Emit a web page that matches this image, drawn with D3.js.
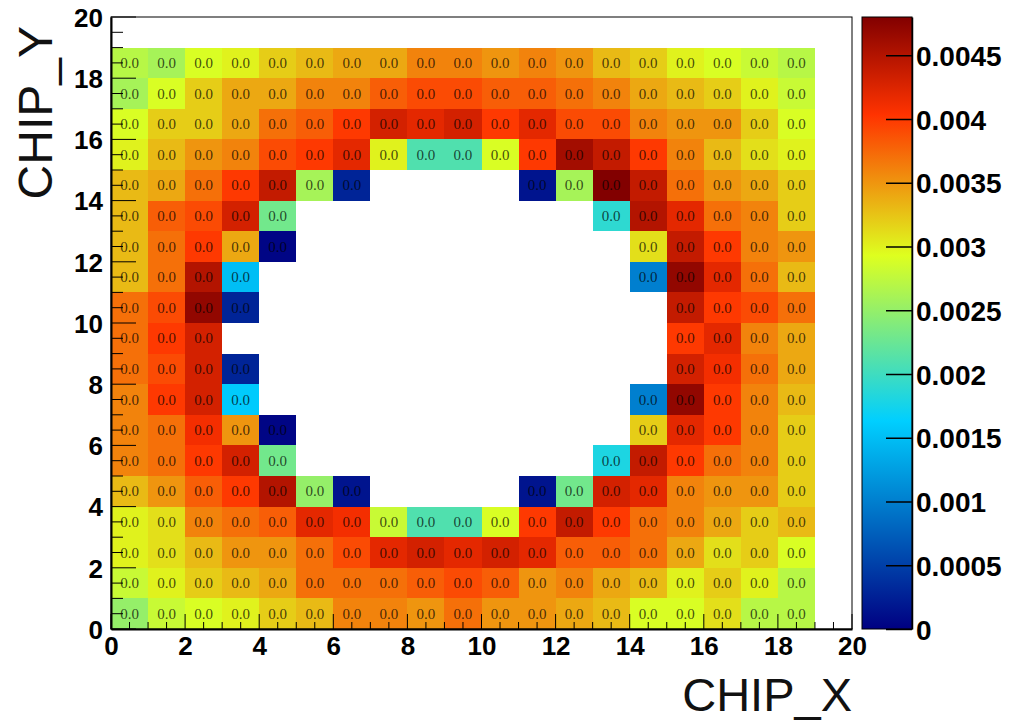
<!DOCTYPE html>
<html>
<head>
<meta charset="utf-8">
<script src="https://d3js.org/d3.v7.min.js"></script>
<style>
  body { margin: 0; background: #fff; }
  svg text { font-family: "Liberation Sans", Arial, sans-serif; }
</style>
</head>
<body>
<div id="chart"></div>
<script>
// chip occupancy map, one row per CHIP_Y (top row first), null = empty bin
const chipX = [0, 1, 2, 3, 4, 5, 6, 7, 8, 9, 10, 11, 12, 13, 14, 15, 16, 17, 18];
const chipY = [18, 17, 16, 15, 14, 13, 12, 11, 10, 9, 8, 7, 6, 5, 4, 3, 2, 1, 0];
const _ = null;
const occupancy = [
  [0.0027, 0.0026, 0.0029, 0.0030, 0.0032, 0.0033, 0.0034, 0.0034, 0.0036, 0.0036, 0.0035, 0.0036, 0.0035, 0.0033, 0.0032, 0.0030, 0.0029, 0.0028, 0.0027],
  [0.0026, 0.0029, 0.0032, 0.0034, 0.0034, 0.0036, 0.0036, 0.0038, 0.0039, 0.0039, 0.0038, 0.0038, 0.0037, 0.0036, 0.0034, 0.0033, 0.0032, 0.0030, 0.0028],
  [0.0029, 0.0032, 0.0032, 0.0034, 0.0037, 0.0038, 0.0040, 0.0043, 0.0042, 0.0043, 0.0040, 0.0042, 0.0039, 0.0039, 0.0036, 0.0035, 0.0035, 0.0032, 0.0029],
  [0.0030, 0.0033, 0.0035, 0.0036, 0.0039, 0.0040, 0.0042, 0.0030, 0.0021, 0.0021, 0.0029, 0.0040, 0.0046, 0.0044, 0.0040, 0.0036, 0.0033, 0.0031, 0.0030],
  [0.0033, 0.0034, 0.0037, 0.0040, 0.0044, 0.0026, 0.00028, _, _, _, _, 0.00016, 0.0026, 0.0048, 0.0044, 0.0037, 0.0035, 0.0034, 0.0032],
  [0.0033, 0.0038, 0.0039, 0.0043, 0.0023, _, _, _, _, _, _, _, _, 0.0019, 0.0045, 0.0042, 0.0037, 0.0036, 0.0032],
  [0.0033, 0.0037, 0.0040, 0.0034, 0.00004, _, _, _, _, _, _, _, _, _, 0.0031, 0.0044, 0.0040, 0.0036, 0.0035],
  [0.0033, 0.0037, 0.0045, 0.0015, _, _, _, _, _, _, _, _, _, _, 0.0010, 0.0047, 0.0042, 0.0037, 0.0033],
  [0.0037, 0.0039, 0.0047, 0.00028, _, _, _, _, _, _, _, _, _, _, _, 0.0044, 0.0040, 0.0039, 0.0037],
  [0.0037, 0.0040, 0.0043, _, _, _, _, _, _, _, _, _, _, _, _, 0.0040, 0.0042, 0.0036, 0.0034],
  [0.0037, 0.0039, 0.0043, 0.00028, _, _, _, _, _, _, _, _, _, _, _, 0.0043, 0.0041, 0.0037, 0.0034],
  [0.0036, 0.0040, 0.0043, 0.0016, _, _, _, _, _, _, _, _, _, _, 0.0010, 0.0047, 0.0040, 0.0036, 0.0033],
  [0.0036, 0.0037, 0.0041, 0.0035, 0.00004, _, _, _, _, _, _, _, _, _, 0.0032, 0.0042, 0.0040, 0.0036, 0.0032],
  [0.0036, 0.0037, 0.0040, 0.0043, 0.0023, _, _, _, _, _, _, _, _, 0.0018, 0.0044, 0.0040, 0.0037, 0.0036, 0.0032],
  [0.0033, 0.0035, 0.0038, 0.0040, 0.0045, 0.0025, 0.00016, _, _, _, _, 0.00016, 0.0023, 0.0043, 0.0042, 0.0036, 0.0035, 0.0035, 0.0032],
  [0.0030, 0.0031, 0.0036, 0.0037, 0.0038, 0.0042, 0.0041, 0.0028, 0.0021, 0.0021, 0.0029, 0.0040, 0.0044, 0.0040, 0.0037, 0.0036, 0.0034, 0.0032, 0.0033],
  [0.0030, 0.0031, 0.0033, 0.0035, 0.0035, 0.0037, 0.0039, 0.0042, 0.0043, 0.0042, 0.0043, 0.0042, 0.0038, 0.0038, 0.0037, 0.0034, 0.0031, 0.0032, 0.0029],
  [0.0028, 0.0030, 0.0032, 0.0033, 0.0034, 0.0037, 0.0037, 0.0037, 0.0038, 0.0039, 0.0038, 0.0035, 0.0036, 0.0034, 0.0033, 0.0030, 0.0032, 0.0030, 0.0027],
  [0.0025, 0.0028, 0.0029, 0.0030, 0.0032, 0.0033, 0.0036, 0.0036, 0.0035, 0.0037, 0.0035, 0.0035, 0.0034, 0.0033, 0.0029, 0.0029, 0.0031, 0.0027, 0.0027]
];
const axisTicks = [0, 2, 4, 6, 8, 10, 12, 14, 16, 18, 20];
const zTicks = [0, 0.0005, 0.001, 0.0015, 0.002, 0.0025, 0.003, 0.0035, 0.004, 0.0045];
const zTickLabels = ["0", "0.0005", "0.001", "0.0015", "0.002", "0.0025", "0.003", "0.0035", "0.004", "0.0045"];
const zMax = 0.0048;
const paletteStops = [0, 0.34, 0.61, 0.84, 1];
const paletteColors = ["rgb(0,0,130)", "rgb(0,207,255)", "rgb(222,255,31)", "rgb(255,51,0)", "rgb(130,0,0)"];

const W = 1009, H = 727;
const padL = 111, padR = 852, padT = 17, padB = 629;
const barX0 = 862, barX1 = 912;

const svg = d3.select("#chart").append("svg")
  .attr("width", W).attr("height", H);

const x = d3.scaleLinear().domain([0, 20]).range([padL, padR]);
const y = d3.scaleLinear().domain([0, 20]).range([padB, padT]);
const z = d3.scaleLinear().domain([0, zMax]).range([padB, padT]);
const color = d3.scaleLinear()
  .domain(paletteStops.map(s => s * zMax))
  .range(paletteColors)
  .interpolate(d3.interpolateRgb)
  .clamp(true);

const cells = [];
occupancy.forEach((row, r) => {
  row.forEach((v, c) => {
    if (v !== null) cells.push({ cx: chipX[c], cy: chipY[r], v: v });
  });
});

// bins
svg.append("g")
  .selectAll("rect")
  .data(cells)
  .enter()
  .append("rect")
  .attr("x", d => x(d.cx))
  .attr("y", d => y(d.cy + 1))
  .attr("width", d => x(d.cx + 1) - x(d.cx))
  .attr("height", d => y(d.cy) - y(d.cy + 1))
  .attr("fill", d => color(d.v))
  .attr("shape-rendering", "crispEdges");

// bin contents
svg.append("g")
  .selectAll("text")
  .data(cells)
  .enter()
  .append("text")
  .attr("x", d => (x(d.cx) + x(d.cx + 1)) / 2)
  .attr("y", d => (y(d.cy) + y(d.cy + 1)) / 2 + 5)
  .attr("text-anchor", "middle")
  .style("font-family", "'Liberation Serif', 'Times New Roman', serif")
  .style("font-size", "15px")
  .attr("fill", "#000")
  .attr("fill-opacity", 0.72)
  .text(d => d3.format(".1f")(d.v));

// frame
svg.append("rect")
  .attr("x", padL).attr("y", padT)
  .attr("width", padR - padL).attr("height", padB - padT)
  .attr("fill", "none").attr("stroke", "#000").attr("stroke-width", 1);

// x axis (ticks point inward)
const xAxis = d3.axisBottom(x).tickValues(axisTicks).tickSize(0).tickPadding(0)
  .tickFormat(d3.format("d"));
const gx = svg.append("g").attr("transform", `translate(0,${padB})`).call(xAxis);
gx.select(".domain").attr("stroke", "#000").attr("stroke-width", 2);
gx.selectAll("text")
  .attr("y", 26).attr("dy", 0)
  .style("font-size", "26px").style("font-weight", "bold").attr("fill", "#000");
svg.append("g").selectAll("line")
  .data(d3.range(0, 20.01, 0.5))
  .enter().append("line")
  .attr("x1", d => x(d)).attr("x2", d => x(d))
  .attr("y1", padB).attr("y2", d => padB - (d % 2 === 0 ? 15 : 7))
  .attr("stroke", "#000").attr("stroke-width", 1);

// y axis
const yAxis = d3.axisLeft(y).tickValues(axisTicks).tickSize(0).tickPadding(8)
  .tickFormat(d3.format("d"));
const gy = svg.append("g").attr("transform", `translate(${padL},0)`).call(yAxis);
gy.select(".domain").attr("stroke", "#000").attr("stroke-width", 2);
gy.selectAll("text")
  .attr("dy", "0.36em")
  .style("font-size", "26px").style("font-weight", "bold").attr("fill", "#000");
svg.append("g").selectAll("line")
  .data(d3.range(0, 20.01, 0.5))
  .enter().append("line")
  .attr("y1", d => y(d)).attr("y2", d => y(d))
  .attr("x1", padL).attr("x2", d => padL + (d % 2 === 0 ? 25 : 12))
  .attr("stroke", "#000").attr("stroke-width", 1);

// axis titles
svg.append("text")
  .attr("x", padR).attr("y", 711)
  .attr("text-anchor", "end")
  .style("font-size", "47px")
  .attr("fill", "#111")
  .text("CHIP_X");
svg.append("text")
  .attr("transform", "translate(52,26) rotate(-90)")
  .attr("text-anchor", "end")
  .style("font-size", "48px")
  .attr("fill", "#111")
  .text("CHIP_Y");

// colour palette
const grad = svg.append("defs").append("linearGradient")
  .attr("id", "pal").attr("x1", 0).attr("y1", 1).attr("x2", 0).attr("y2", 0);
grad.selectAll("stop")
  .data(paletteStops)
  .enter().append("stop")
  .attr("offset", d => d)
  .attr("stop-color", (d, i) => paletteColors[i]);

svg.append("rect")
  .attr("x", barX0).attr("y", z(zMax))
  .attr("width", barX1 - barX0).attr("height", z(0) - z(zMax))
  .attr("fill", "url(#pal)")
  .attr("stroke", "#000").attr("stroke-width", 1);

const zAxis = d3.axisRight(z).tickValues(zTicks).tickSize(0).tickPadding(4)
  .tickFormat((d, i) => zTickLabels[i]);
const gz = svg.append("g").attr("transform", `translate(${barX1},0)`).call(zAxis);
gz.select(".domain").attr("stroke", "#000").attr("stroke-width", 1.5);
gz.selectAll("text")
  .attr("dy", "0.36em")
  .style("font-size", "28px").style("font-weight", "bold").attr("fill", "#000");
gz.selectAll(".tick").append("line")
  .attr("x1", 0).attr("x2", -26)
  .attr("stroke", "#000").attr("stroke-width", 1.5);
</script>
</body>
</html>
